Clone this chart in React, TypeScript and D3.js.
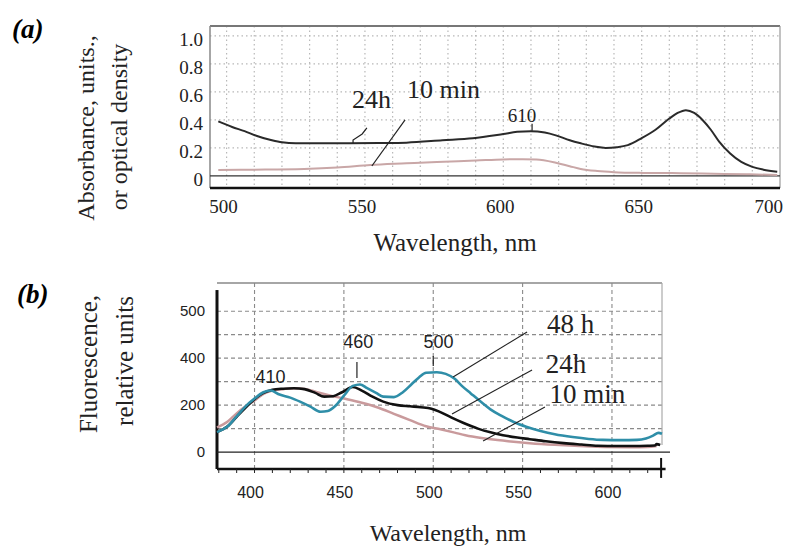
import React from "react";
import * as d3 from "d3";

// ---------- Panel (a): absorbance ----------
const absWl24h = [497, 502, 506.5, 511, 516, 520, 525, 540, 555, 565, 578, 589, 600, 605, 610, 615, 619, 624, 628, 633, 637, 641, 645, 650, 655, 660, 663, 666, 669, 672, 675, 678, 682, 686, 690, 694, 699];
const absVal24h = [0.39, 0.35, 0.32, 0.285, 0.257, 0.24, 0.233, 0.233, 0.235, 0.238, 0.255, 0.27, 0.30, 0.315, 0.32, 0.31, 0.29, 0.255, 0.233, 0.21, 0.2, 0.205, 0.22, 0.27, 0.33, 0.41, 0.45, 0.47, 0.45, 0.4, 0.33, 0.245, 0.16, 0.1, 0.065, 0.045, 0.03];
const absWl10m = [497, 510, 528, 540, 552, 565, 576, 590, 600, 607, 612, 619, 624, 628, 634, 640, 650, 664, 676, 688, 699];
const absVal10m = [0.043, 0.045, 0.05, 0.06, 0.078, 0.09, 0.1, 0.11, 0.118, 0.12, 0.118, 0.095, 0.07, 0.05, 0.035, 0.027, 0.022, 0.02, 0.016, 0.012, 0.007];
const absXTicks = [500, 550, 600, 650, 700];
const absXGrid = d3.range(500, 700, 10);
const absYTicks = [0, 0.2, 0.4, 0.6, 0.8, 1.0];
const absYTickLabels = ["0", "0.2", "0.4", "0.6", "0.8", "1.0"];

// ---------- Panel (b): fluorescence ----------
const flWl24h = [379, 385, 390, 395, 400, 405, 410, 416, 422, 428, 434, 439, 444, 449, 455, 460, 466, 472, 480, 487, 493, 499, 504, 510, 517, 525, 532, 539, 547, 554, 563, 573, 583, 592, 603, 612, 620, 624, 625, 627];
const flVal24h = [85, 110, 150, 190, 225, 252, 265, 270, 272, 268, 252, 236, 238, 255, 277, 262, 236, 215, 200, 195, 191, 185, 170, 148, 124, 100, 84, 72, 62, 55, 46, 38, 32, 27, 26, 26, 27, 28, 34, 30];
const flWl48h = [379, 385, 390, 395, 400, 405, 409, 414, 420, 426, 431, 437, 441, 445, 450, 455, 459, 463, 468, 472, 478, 483, 488, 492, 496, 502, 507, 512, 516, 521, 527, 532, 538, 545, 552, 560, 568, 578, 587, 595, 605, 614, 619, 623, 626, 628];
const flVal48h = [85, 110, 152, 195, 228, 255, 262, 245, 232, 213, 195, 172, 175, 195, 240, 282, 288, 272, 252, 236, 234, 255, 290, 318, 338, 340, 333, 312, 282, 250, 212, 182, 155, 128, 108, 90, 76, 64, 56, 52, 51, 52, 58, 70, 82, 78];
const flWl10m = [379, 385, 390, 395, 400, 405, 410, 416, 422, 429, 435, 441, 450, 460, 469, 478, 487, 496, 504, 512, 518, 527, 536, 545, 554, 568, 582, 596, 610, 620, 625];
const flVal10m = [105, 130, 165, 195, 220, 248, 262, 268, 272, 268, 255, 243, 228, 210, 190, 163, 136, 110, 97, 83, 72, 60, 51, 44, 38, 31, 26, 22, 21, 22, 26];
const flXTicks = [400, 450, 500, 550, 600];
const flXMinor = d3.range(380, 630, 10);
const flYGrid = [100, 200, 300, 400, 500, 600];
const flYTicks = [0, 200, 400, 600];
const flYTickLabels = ["0", "200", "400", "500"];

const SERIF = { fontFamily: "Liberation Serif" };
const SANS = { fontFamily: "Liberation Sans" };

export default function App() {
  const xA = d3.scaleLinear().domain([494, 700]).range([210, 780]);
  const yA = d3.scaleLinear().domain([-0.086, 1.071]).range([188, 26]);
  const xB = d3.scaleLinear().domain([379, 628]).range([217, 662]);
  const yB = d3.scaleLinear().domain([-72, 720]).range([469, 283]);

  const lineA = d3.line<[number, number]>().x((d) => xA(d[0])).y((d) => yA(d[1])).curve(d3.curveMonotoneX);
  const lineB = d3.line<[number, number]>().x((d) => xB(d[0])).y((d) => yB(d[1])).curve(d3.curveMonotoneX);
  const zip = (a: number[], b: number[]) => a.map((v, i) => [v, b[i]] as [number, number]);
  const plain = d3.line<[number, number]>();

  const aLeaderA24 = plain([[550.7, 0.343], [549.0, 0.30], [545.7, 0.257], [545.7, 0.236]].map(([n, v]) => [xA(n), yA(v)] as [number, number]));
  const bLeaders: [number, number, number, number][] = [
    [511.1, 320, 552.5, 511.5],
    [510.5, 162, 555.3, 350],
    [527.9, 47, 562.5, 192],
  ];

  return (
    <svg width={785} height={547} style={{ position: "absolute", left: 0, top: 0, background: "#fff" }}>
      {/* ================= Panel (a) ================= */}
      <text x={12} y={38} style={SERIF} fontSize={27} fontWeight="bold" fontStyle="italic">(a)</text>
      <g style={SERIF} fontSize={24} fill="#222">
        <text transform={`translate(94,128) rotate(-90)`} textAnchor="middle">Absorbance, units.,</text>
        <text transform={`translate(127,127) rotate(-90)`} textAnchor="middle">or optical density</text>
      </g>
      <g stroke="#b8b8b8" strokeWidth={1.2} strokeDasharray="1.5,3">
        {absXGrid.map((w) => (
          <line key={"ag" + w} x1={xA(w)} x2={xA(w)} y1={yA(1.071)} y2={yA(-0.086)} />
        ))}
        {absYTicks.slice(1).map((v) => (
          <line key={"ah" + v} x1={xA(494)} x2={xA(700)} y1={yA(v)} y2={yA(v)} />
        ))}
      </g>
      <line x1={xA(494)} x2={xA(700)} y1={yA(1.071)} y2={yA(1.071)} stroke="#777" strokeWidth={2} />
      <line x1={xA(494)} x2={xA(494)} y1={yA(1.071)} y2={yA(-0.086)} stroke="#888" strokeWidth={1.5} />
      <line x1={xA(700)} x2={xA(700)} y1={yA(1.071)} y2={yA(-0.086)} stroke="#999" strokeWidth={1.2} />
      <line x1={xA(494)} x2={xA(700)} y1={yA(0)} y2={yA(0)} stroke="#333" strokeWidth={1.3} />
      <line x1={xA(494)} x2={xA(700)} y1={yA(-0.086)} y2={yA(-0.086)} stroke="#111" strokeWidth={2.5} />
      <g style={SERIF} fontSize={19} fill="#222">
        {absYTicks.map((v, i) => (
          <text key={"ayt" + v} x={203} y={yA(v) + 4} textAnchor="end" dominantBaseline="central">{absYTickLabels[i]}</text>
        ))}
        {absXTicks.map((w, i) => (
          <text key={"axt" + w} x={i === absXTicks.length - 1 ? xA(w) + 3 : xA(w) - 3} y={213} textAnchor={i === absXTicks.length - 1 ? "end" : "middle"}>{w}</text>
        ))}
      </g>
      <text x={455} y={251} textAnchor="middle" style={SERIF} fontSize={25} fill="#222">Wavelength, nm</text>
      <path d={lineA(zip(absWl10m, absVal10m)) || ""} fill="none" stroke="#c9a7a7" strokeWidth={2} />
      <path d={lineA(zip(absWl24h, absVal24h)) || ""} fill="none" stroke="#2a2a2a" strokeWidth={2} />
      <g style={SERIF} fill="#222">
        <text x={xA(545.3)} y={yA(0.486)} fontSize={26}>24h</text>
        <text x={xA(565.2)} y={yA(0.557)} fontSize={26}>10 min</text>
        <text x={xA(606.8)} y={yA(0.386)} fontSize={19} textAnchor="middle">610</text>
      </g>
      <path d={aLeaderA24 || ""} fill="none" stroke="#222" strokeWidth={1.2} />
      <line x1={xA(564.5)} y1={yA(0.4)} x2={xA(552.5)} y2={yA(0.071)} stroke="#222" strokeWidth={1.2} />
      <line x1={xA(610.4)} y1={yA(0.372)} x2={xA(610.4)} y2={yA(0.322)} stroke="#222" strokeWidth={1.2} />

      {/* ================= Panel (b) ================= */}
      <text x={17} y={303} style={SERIF} fontSize={27} fontWeight="bold" fontStyle="italic">(b)</text>
      <g style={SERIF} fontSize={25} fill="#222">
        <text transform={`translate(97,364) rotate(-90)`} textAnchor="middle">Fluorescence,</text>
        <text transform={`translate(133,361) rotate(-90)`} textAnchor="middle">relative units</text>
      </g>
      <g stroke="#8a8a8a" strokeWidth={1.1} strokeDasharray="4,3">
        {flXTicks.map((w) => (
          <line key={"bg" + w} x1={xB(w)} x2={xB(w)} y1={yB(720)} y2={yB(-72)} />
        ))}
        {flYGrid.map((v) => (
          <line key={"bh" + v} x1={xB(379)} x2={xB(628)} y1={yB(v)} y2={yB(v)} />
        ))}
      </g>
      <line x1={xB(379)} x2={xB(628)} y1={yB(720)} y2={yB(720)} stroke="#888" strokeWidth={1.5} />
      <line x1={xB(628)} x2={xB(628)} y1={yB(720)} y2={yB(30)} stroke="#aaa" strokeWidth={1.2} />
      <line x1={xB(379)} x2={xB(379)} y1={yB(690)} y2={yB(-72)} stroke="#111" strokeWidth={3} />
      <line x1={xB(379)} x2={xB(632.5)} y1={yB(0)} y2={yB(0)} stroke="#222" strokeWidth={1.3} />
      <line x1={xB(379)} x2={xB(630)} y1={yB(-72)} y2={yB(-72)} stroke="#111" strokeWidth={2.5} />
      <g stroke="#222" strokeWidth={1}>
        {flXMinor.map((w) => (
          <line key={"bm" + w} x1={xB(w)} x2={xB(w)} y1={yB(-72)} y2={yB(-72) + 4} />
        ))}
      </g>
      <line x1={xB(627.5)} x2={xB(627.5)} y1={yB(-25)} y2={yB(-110)} stroke="#111" strokeWidth={2} />
      <g style={SANS} fontSize={15} fill="#222">
        {flYTicks.map((v, i) => (
          <text key={"byt" + v} x={205} y={yB(v) - 1} textAnchor="end" dominantBaseline="central">{flYTickLabels[i]}</text>
        ))}
      </g>
      <g style={SANS} fontSize={16} fill="#222">
        {flXTicks.map((w) => (
          <text key={"bxt" + w} x={xB(w) - 4} y={498} textAnchor="middle">{w}</text>
        ))}
      </g>
      <text x={448} y={541} textAnchor="middle" style={SERIF} fontSize={24} fill="#222">Wavelength, nm</text>
      <path d={lineB(zip(flWl10m, flVal10m)) || ""} fill="none" stroke="#c99a9c" strokeWidth={2.5} />
      <path d={lineB(zip(flWl24h, flVal24h)) || ""} fill="none" stroke="#111" strokeWidth={2.6} />
      <path d={lineB(zip(flWl48h, flVal48h)) || ""} fill="none" stroke="#2f8ea8" strokeWidth={2.6} />
      <g style={SANS} fontSize={18} fill="#222" textAnchor="middle">
        <text x={xB(409)} y={yB(294)}>410</text>
        <text x={xB(458)} y={yB(443)}>460</text>
        <text x={xB(503)} y={yB(443)}>500</text>
      </g>
      <line x1={xB(457.3)} x2={xB(457.3)} y1={yB(384)} y2={yB(316)} stroke="#222" strokeWidth={1.2} />
      <line x1={xB(500)} x2={xB(500)} y1={yB(409)} y2={yB(367)} stroke="#222" strokeWidth={1.2} />
      <g style={SERIF} fontSize={27} fill="#222">
        <text x={xB(563.7)} y={yB(507)}>48 h</text>
        <text x={xB(563)} y={yB(337)}>24h</text>
        <text x={xB(565)} y={yB(209)}>10 min</text>
      </g>
      <g stroke="#222" strokeWidth={1.1}>
        {bLeaders.map((l, i) => (
          <line key={"bl" + i} x1={xB(l[0])} y1={yB(l[1])} x2={xB(l[2])} y2={yB(l[3])} />
        ))}
      </g>
    </svg>
  );
}
